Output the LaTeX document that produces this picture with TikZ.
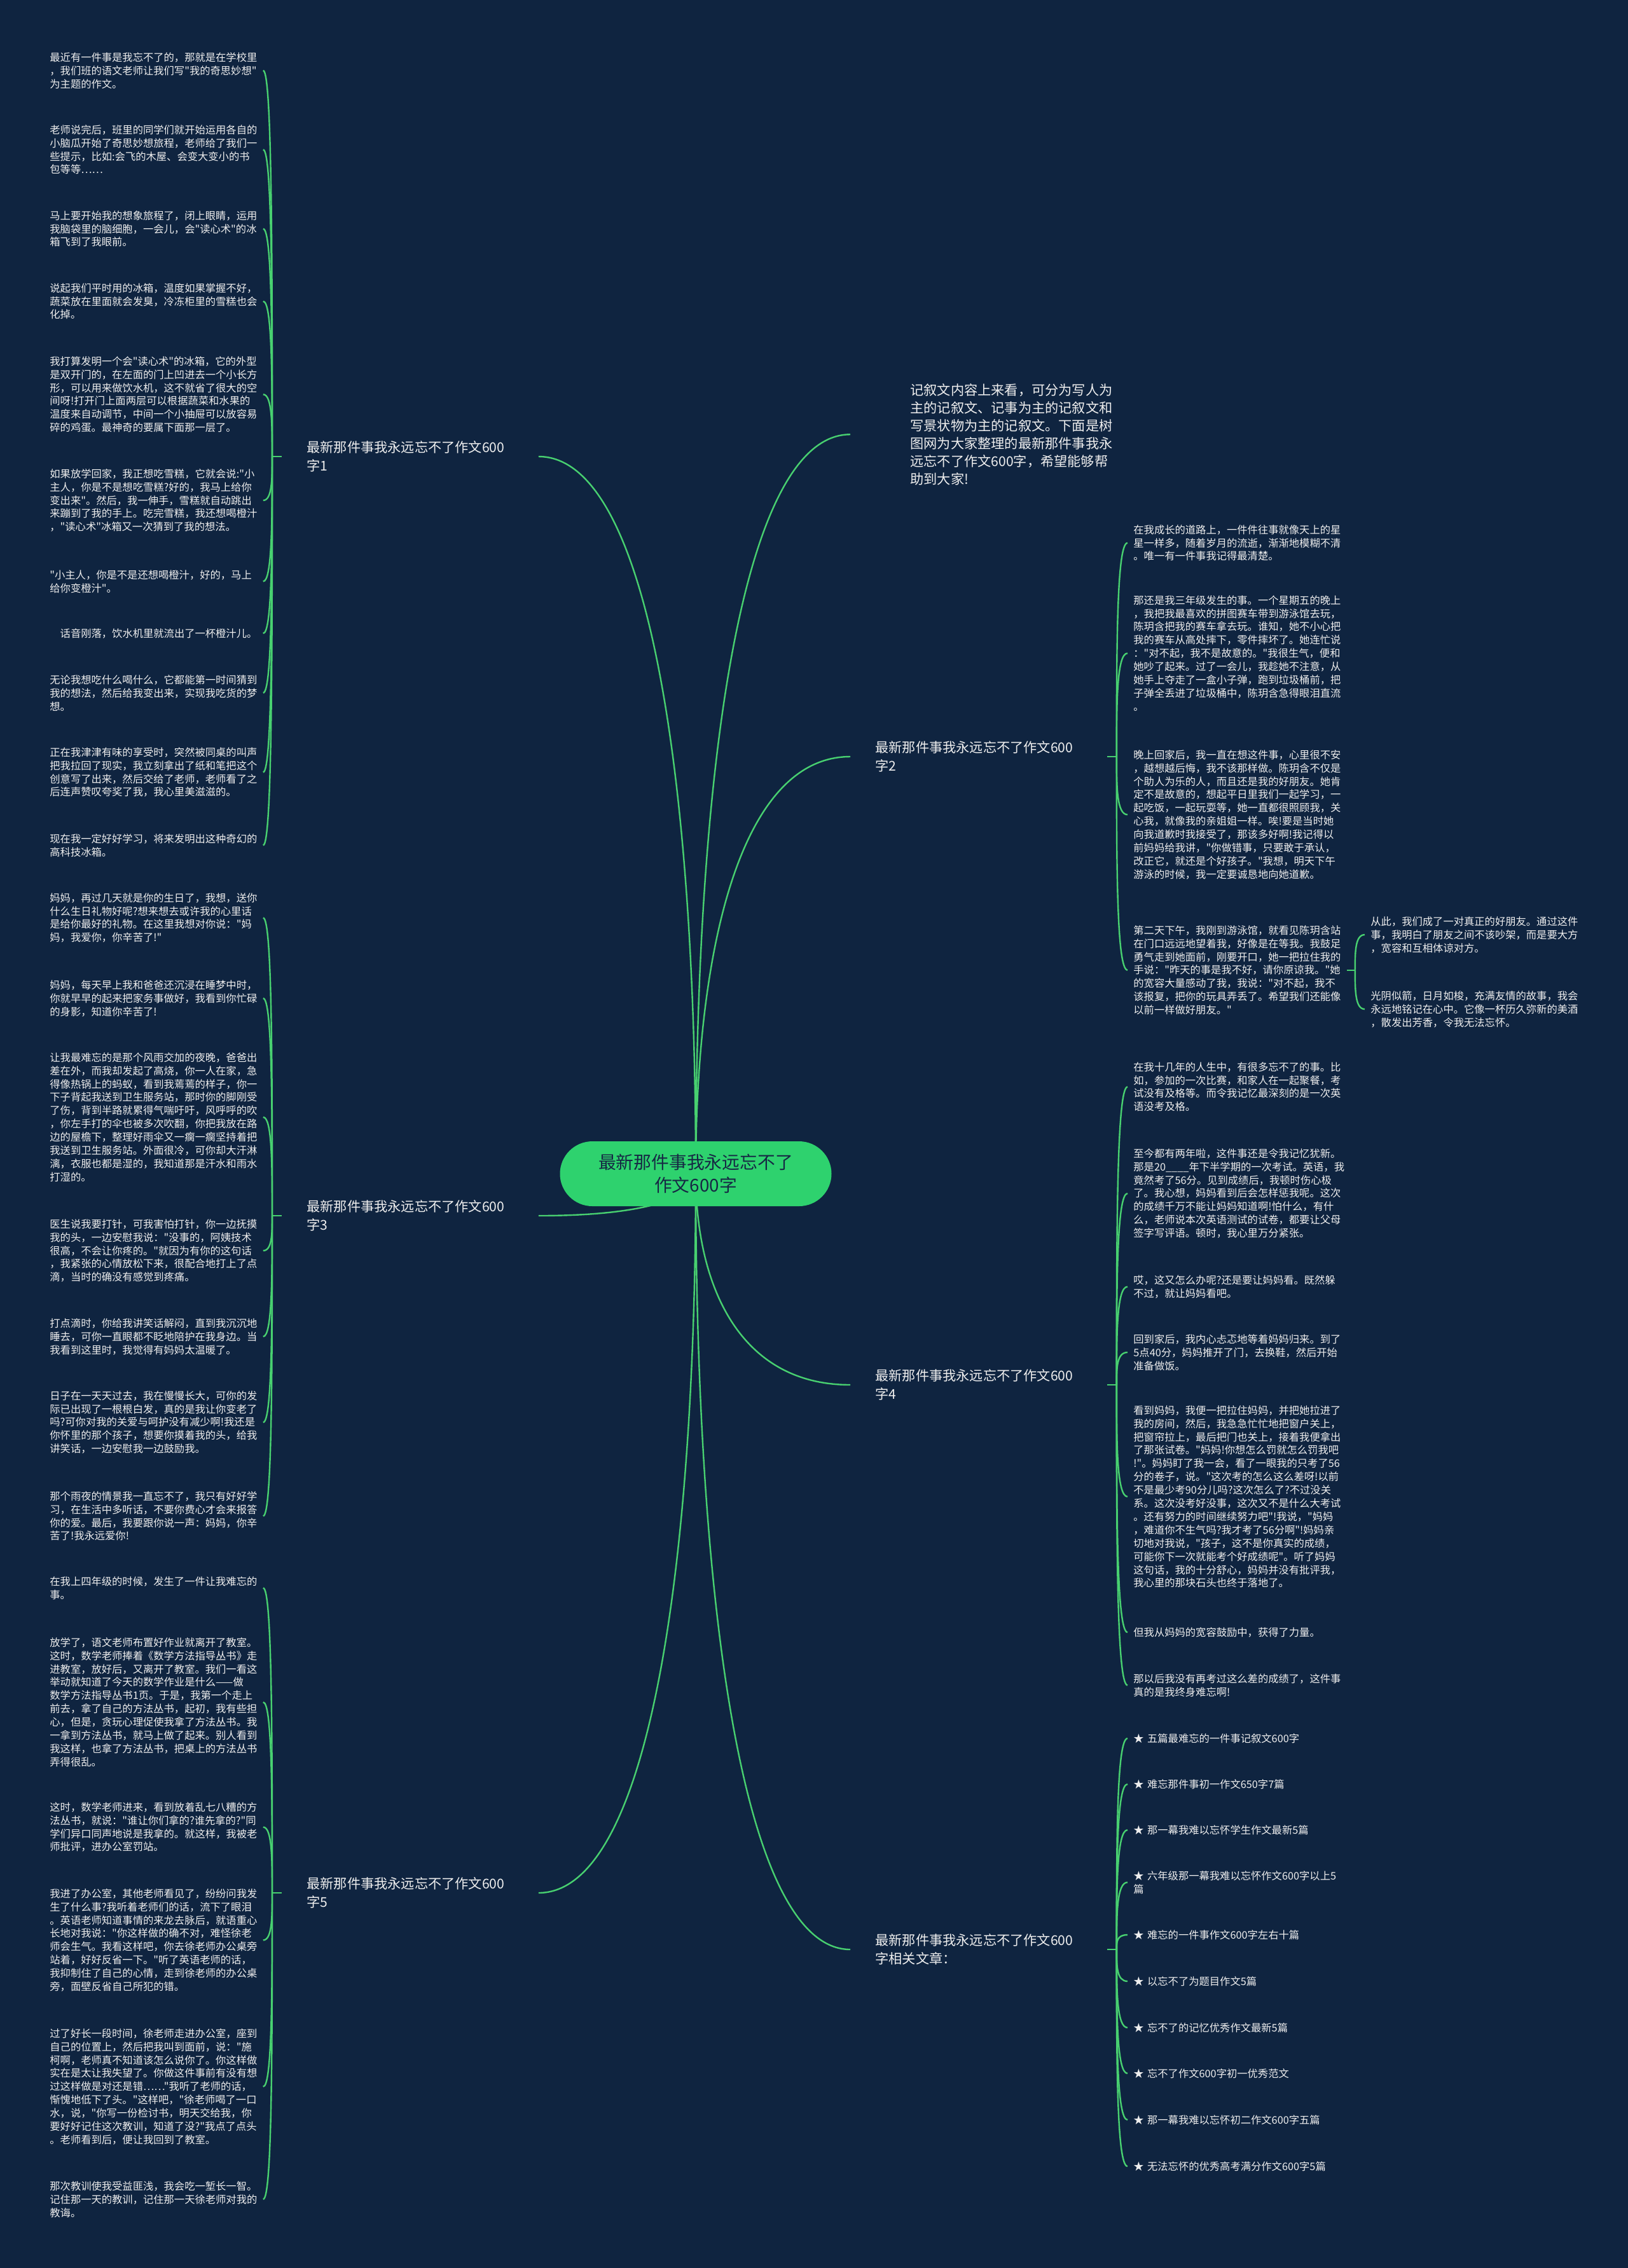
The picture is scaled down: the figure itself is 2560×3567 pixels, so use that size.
\documentclass[tikz,border=0pt]{standalone}
\usepackage{fontspec}
\newfontfamily\cjkf{Noto Sans CJK SC}
\usetikzlibrary{calc,backgrounds}
\definecolor{bgc}{RGB}{15,36,64}
\definecolor{lnc}{RGB}{72,208,112}
\definecolor{ctr}{RGB}{46,210,110}
\definecolor{txt}{RGB}{238,238,238}
\definecolor{ctxt}{RGB}{22,40,68}
\newcommand\mainlink[2]{\draw[conn] (#1) .. controls ($(#1)!0.55!(#1 |- #2)$) and ($(#1 |- #2)!0.3!(#2)$) .. (#2);}
\newcommand\brlink[2]{\draw[conn] (#1) .. controls ($(#1)!0.5!(#1 |- #2)$) and (#1 |- #2) .. (#2);}
\begin{document}
\begin{tikzpicture}[x=0.5pt,y=-0.5pt,
 conn/.style={draw=lnc,line width=1.2pt},
 leafbox/.style={anchor=north west,text width=163pt,inner xsep=4.5pt,inner ysep=0pt,align=left,text=txt,font=\cjkf\fontsize{8.15pt}{10.45pt}\selectfont},
 branchbox/.style={anchor=west,text width=162.5pt,inner xsep=19.5pt,inner ysep=0pt,align=left,text=txt,font=\cjkf\fontsize{10.6pt}{14.5pt}\selectfont},
 introbox/.style={anchor=north west,inner sep=0pt,align=left,text=txt,font=\cjkf\fontsize{10.6pt}{14pt}\selectfont},
 centrebox/.style={fill=ctr,rounded corners=25.5pt,minimum width=213.5pt,minimum height=51pt,align=center,text=ctxt,font=\cjkf\fontsize{13.9pt}{18pt}\selectfont}]
\useasboundingbox (0,0) rectangle (2560,3567);

\node[centrebox] (c) at (1094,1846) {最新那件事我永远忘不了\\作文600字};

% first level
\node[introbox] (intro) at (1431,603) {记叙文内容上来看，可分为写人为\\主的记叙文、记事为主的记叙文和\\写景状物为主的记叙文。下面是树\\图网为大家整理的最新那件事我永\\远忘不了作文600字，希望能够帮\\助到大家!};
\node[branchbox] (b1) at (443,718) {最新那件事我永远忘不了作文600\\字1};
\node[branchbox] (b3) at (443,1912) {最新那件事我永远忘不了作文600\\字3};
\node[branchbox] (b5) at (443,2977) {最新那件事我永远忘不了作文600\\字5};
\node[branchbox] (b2) at (1337,1190) {最新那件事我永远忘不了作文600\\字2};
\node[branchbox] (b4) at (1337,2178) {最新那件事我永远忘不了作文600\\字4};
\node[branchbox] (b6) at (1337,3066) {最新那件事我永远忘不了作文600\\字相关文章：};

% branch 1 leaves
\node[leafbox] (l1) at (69,82) {最近有一件事是我忘不了的，那就是在学校里\\，我们班的语文老师让我们写"我的奇思妙想"\\为主题的作文。};
\node[leafbox] (l2) at (69,196) {老师说完后，班里的同学们就开始运用各自的\\小脑瓜开始了奇思妙想旅程，老师给了我们一\\些提示，比如:会飞的木屋、会变大变小的书\\包等等……};
\node[leafbox] (l3) at (69,331) {马上要开始我的想象旅程了，闭上眼睛，运用\\我脑袋里的脑细胞，一会儿，会"读心术"的冰\\箱飞到了我眼前。};
\node[leafbox] (l4) at (69,445) {说起我们平时用的冰箱，温度如果掌握不好，\\蔬菜放在里面就会发臭，冷冻柜里的雪糕也会\\化掉。};
\node[leafbox] (l5) at (69,560) {我打算发明一个会"读心术"的冰箱，它的外型\\是双开门的，在左面的门上凹进去一个小长方\\形，可以用来做饮水机，这不就省了很大的空\\间呀!打开门上面两层可以根据蔬菜和水果的\\温度来自动调节，中间一个小抽屉可以放容易\\碎的鸡蛋。最神奇的要属下面那一层了。};
\node[leafbox] (l6) at (69,737) {如果放学回家，我正想吃雪糕，它就会说:"小\\主人，你是不是想吃雪糕?好的，我马上给你\\变出来"。然后，我一伸手，雪糕就自动跳出\\来蹦到了我的手上。吃完雪糕，我还想喝橙汁\\，"读心术"冰箱又一次猜到了我的想法。};
\node[leafbox] (l7) at (69,896) {"小主人，你是不是还想喝橙汁，好的，马上\\给你变橙汁"。};
\node[leafbox] (l8) at (69,988) {\hspace*{1em}话音刚落，饮水机里就流出了一杯橙汁儿。};
\node[leafbox] (l9) at (69,1061) {无论我想吃什么喝什么，它都能第一时间猜到\\我的想法，然后给我变出来，实现我吃货的梦\\想。};
\node[leafbox] (l10) at (69,1175) {正在我津津有味的享受时，突然被同桌的叫声\\把我拉回了现实，我立刻拿出了纸和笔把这个\\创意写了出来，然后交给了老师，老师看了之\\后连声赞叹夸奖了我，我心里美滋滋的。};
\node[leafbox] (l11) at (69,1311) {现在我一定好好学习，将来发明出这种奇幻的\\高科技冰箱。};

% branch 3 leaves
\node[leafbox] (l12) at (69,1404) {妈妈，再过几天就是你的生日了，我想，送你\\什么生日礼物好呢?想来想去或许我的心里话\\是给你最好的礼物。在这里我想对你说："妈\\妈，我爱你，你辛苦了!"};
\node[leafbox] (l13) at (69,1541) {妈妈，每天早上我和爸爸还沉浸在睡梦中时，\\你就早早的起来把家务事做好，我看到你忙碌\\的身影，知道你辛苦了!};
\node[leafbox] (l14) at (69,1655) {让我最难忘的是那个风雨交加的夜晚，爸爸出\\差在外，而我却发起了高烧，你一人在家，急\\得像热锅上的蚂蚁，看到我蔫蔫的样子，你一\\下子背起我送到卫生服务站，那时你的脚刚受\\了伤，背到半路就累得气喘吁吁，风呼呼的吹\\，你左手打的伞也被多次吹翻，你把我放在路\\边的屋檐下，整理好雨伞又一瘸一瘸坚持着把\\我送到卫生服务站。外面很冷，可你却大汗淋\\漓，衣服也都是湿的，我知道那是汗水和雨水\\打湿的。};
\node[leafbox] (l15) at (69,1917) {医生说我要打针，可我害怕打针，你一边抚摸\\我的头，一边安慰我说："没事的，阿姨技术\\很高，不会让你疼的。"就因为有你的这句话\\，我紧张的心情放松下来，很配合地打上了点\\滴，当时的确没有感觉到疼痛。};
\node[leafbox] (l16) at (69,2073) {打点滴时，你给我讲笑话解闷，直到我沉沉地\\睡去，可你一直眼都不眨地陪护在我身边。当\\我看到这里时，我觉得有妈妈太温暖了。};
\node[leafbox] (l17) at (69,2187) {日子在一天天过去，我在慢慢长大，可你的发\\际已出现了一根根白发，真的是我让你变老了\\吗?可你对我的关爱与呵护没有减少啊!我还是\\你怀里的那个孩子，想要你摸着我的头，给我\\讲笑话，一边安慰我一边鼓励我。};
\node[leafbox] (l18) at (69,2345) {那个雨夜的情景我一直忘不了，我只有好好学\\习，在生活中多听话，不要你费心才会来报答\\你的爱。最后，我要跟你说一声：妈妈，你辛\\苦了!我永远爱你!};

% branch 5 leaves
\node[leafbox] (l19) at (69,2479) {在我上四年级的时候，发生了一件让我难忘的\\事。};
\node[leafbox] (l20) at (69,2575) {放学了，语文老师布置好作业就离开了教室。\\这时，数学老师捧着《数学方法指导丛书》走\\进教室，放好后，又离开了教室。我们一看这\\举动就知道了今天的数学作业是什么——做\\数学方法指导丛书1页。于是，我第一个走上\\前去，拿了自己的方法丛书，起初，我有些担\\心，但是，贪玩心理促使我拿了方法丛书。我\\一拿到方法丛书，就马上做了起来。别人看到\\我这样，也拿了方法丛书，把桌上的方法丛书\\弄得很乱。};
\node[leafbox] (l21) at (69,2834) {这时，数学老师进来，看到放着乱七八糟的方\\法丛书，就说："谁让你们拿的?谁先拿的?"同\\学们异口同声地说是我拿的。就这样，我被老\\师批评，进办公室罚站。};
\node[leafbox] (l22) at (69,2970) {我进了办公室，其他老师看见了，纷纷问我发\\生了什么事?我听着老师们的话，流下了眼泪\\。英语老师知道事情的来龙去脉后，就语重心\\长地对我说："你这样做的确不对，难怪徐老\\师会生气。我看这样吧，你去徐老师办公桌旁\\站着，好好反省一下。"听了英语老师的话，\\我抑制住了自己的心情，走到徐老师的办公桌\\旁，面壁反省自己所犯的错。};
\node[leafbox] (l23) at (69,3190) {过了好长一段时间，徐老师走进办公室，座到\\自己的位置上，然后把我叫到面前，说："施\\柯啊，老师真不知道该怎么说你了。你这样做\\实在是太让我失望了。你做这件事前有没有想\\过这样做是对还是错……"我听了老师的话，\\惭愧地低下了头。"这样吧，"徐老师喝了一口\\水，说，"你写一份检讨书，明天交给我，你\\要好好记住这次教训，知道了没?"我点了点头\\。老师看到后，便让我回到了教室。};
\node[leafbox] (l24) at (69,3430) {那次教训使我受益匪浅，我会吃一堑长一智。\\记住那一天的教训，记住那一天徐老师对我的\\教诲。};

% branch 2 leaves
\node[leafbox] (r21) at (1773,825) {在我成长的道路上，一件件往事就像天上的星\\星一样多，随着岁月的流逝，渐渐地模糊不清\\。唯一有一件事我记得最清楚。};
\node[leafbox] (r22) at (1773,936) {那还是我三年级发生的事。一个星期五的晚上\\，我把我最喜欢的拼图赛车带到游泳馆去玩，\\陈玥含把我的赛车拿去玩。谁知，她不小心把\\我的赛车从高处摔下，零件摔坏了。她连忙说\\："对不起，我不是故意的。"我很生气，便和\\她吵了起来。过了一会儿，我趁她不注意，从\\她手上夺走了一盒小子弹，跑到垃圾桶前，把\\子弹全丢进了垃圾桶中，陈玥含急得眼泪直流\\。};
\node[leafbox] (r23) at (1773,1179) {晚上回家后，我一直在想这件事，心里很不安\\，越想越后悔，我不该那样做。陈玥含不仅是\\个助人为乐的人，而且还是我的好朋友。她肯\\定不是故意的，想起平日里我们一起学习，一\\起吃饭，一起玩耍等，她一直都很照顾我，关\\心我，就像我的亲姐姐一样。唉!要是当时她\\向我道歉时我接受了，那该多好啊!我记得以\\前妈妈给我讲，"你做错事，只要敢于承认，\\改正它，就还是个好孩子。"我想，明天下午\\游泳的时候，我一定要诚恳地向她道歉。};
\node[leafbox] (r24) at (1773,1455) {第二天下午，我刚到游泳馆，就看见陈玥含站\\在门口远远地望着我，好像是在等我。我鼓足\\勇气走到她面前，刚要开口，她一把拉住我的\\手说："昨天的事是我不好，请你原谅我。"她\\的宽容大量感动了我，我说："对不起，我不\\该报复，把你的玩具弄丢了。希望我们还能像\\以前一样做好朋友。"};
\node[leafbox] (s1) at (2146,1441) {从此，我们成了一对真正的好朋友。通过这件\\事，我明白了朋友之间不该吵架，而是要大方\\，宽容和互相体谅对方。};
\node[leafbox] (s2) at (2146,1558) {光阴似箭，日月如梭，充满友情的故事，我会\\永远地铭记在心中。它像一杯历久弥新的美酒\\，散发出芳香，令我无法忘怀。};

% branch 4 leaves
\node[leafbox] (r41) at (1773,1670) {在我十几年的人生中，有很多忘不了的事。比\\如，参加的一次比赛，和家人在一起聚餐，考\\试没有及格等。而令我记忆最深刻的是一次英\\语没考及格。};
\node[leafbox] (r42) at (1773,1806) {至今都有两年啦，这件事还是令我记忆犹新。\\那是20\_\_\_\_年下半学期的一次考试。英语，我\\竟然考了56分。见到成绩后，我顿时伤心极\\了。我心想，妈妈看到后会怎样惩我呢。这次\\的成绩千万不能让妈妈知道啊!怕什么，有什\\么，老师说本次英语测试的试卷，都要让父母\\签字写评语。顿时，我心里万分紧张。};
\node[leafbox] (r43) at (1773,2005) {哎，这又怎么办呢?还是要让妈妈看。既然躲\\不过，就让妈妈看吧。};
\node[leafbox] (r44) at (1773,2098) {回到家后，我内心忐忑地等着妈妈归来。到了\\5点40分，妈妈推开了门，去换鞋，然后开始\\准备做饭。};
\node[leafbox] (r45) at (1773,2210) {看到妈妈，我便一把拉住妈妈，并把她拉进了\\我的房间，然后，我急急忙忙地把窗户关上，\\把窗帘拉上，最后把门也关上，接着我便拿出\\了那张试卷。"妈妈!你想怎么罚就怎么罚我吧\\!"。妈妈盯了我一会，看了一眼我的只考了56\\分的卷子，说。"这次考的怎么这么差呀!以前\\不是最少考90分儿吗?这次怎么了?不过没关\\系。这次没考好没事，这次又不是什么大考试\\。还有努力的时间继续努力吧"!我说，"妈妈\\，难道你不生气吗?我才考了56分啊"!妈妈亲\\切地对我说，"孩子，这不是你真实的成绩，\\可能你下一次就能考个好成绩呢"。听了妈妈\\这句话，我的十分舒心，妈妈并没有批评我，\\我心里的那块石头也终于落地了。};
\node[leafbox] (r46) at (1773,2559) {但我从妈妈的宽容鼓励中，获得了力量。};
\node[leafbox] (r47) at (1773,2632) {那以后我没有再考过这么差的成绩了，这件事\\真的是我终身难忘啊!};

% branch 6 leaves
\node[leafbox] (r61) at (1773,2726) {★ 五篇最难忘的一件事记叙文600字};
\node[leafbox] (r62) at (1773,2798) {★ 难忘那件事初一作文650字7篇};
\node[leafbox] (r63) at (1773,2870) {★ 那一幕我难以忘怀学生作文最新5篇};
\node[leafbox] (r64) at (1773,2942) {★ 六年级那一幕我难以忘怀作文600字以上5\\篇};
\node[leafbox] (r65) at (1773,3035) {★ 难忘的一件事作文600字左右十篇};
\node[leafbox] (r66) at (1773,3108) {★ 以忘不了为题目作文5篇};
\node[leafbox] (r67) at (1773,3181) {★ 忘不了的记忆优秀作文最新5篇};
\node[leafbox] (r68) at (1773,3253) {★ 忘不了作文600字初一优秀范文};
\node[leafbox] (r69) at (1773,3326) {★ 那一幕我难以忘怀初二作文600字五篇};
\node[leafbox] (r610) at (1773,3399) {★ 无法忘怀的优秀高考满分作文600字5篇};

% hubs
\coordinate (ie) at ([xshift=-47pt]intro.west);
\coordinate (h1) at ([xshift=-7.5pt]b1.west);
\coordinate (h3) at ([xshift=-7.5pt]b3.west);
\coordinate (h5) at ([xshift=-7.5pt]b5.west);
\coordinate (h2) at ([xshift=7.5pt]b2.east);
\coordinate (h4) at ([xshift=7.5pt]b4.east);
\coordinate (h6) at ([xshift=7.5pt]b6.east);
\coordinate (h24) at ([xshift=6.5pt]r24.east);

\begin{scope}[on background layer]
\fill[bgc] (0,0) rectangle (2560,3567);
\mainlink{c.center}{ie}
\mainlink{c.center}{b1.east}
\mainlink{c.center}{b3.east}
\mainlink{c.center}{b5.east}
\mainlink{c.center}{b2.west}
\mainlink{c.center}{b4.west}
\mainlink{c.center}{b6.west}
\draw[conn] (b1.west) -- (h1);
\draw[conn] (b3.west) -- (h3);
\draw[conn] (b5.west) -- (h5);
\draw[conn] (b2.east) -- (h2);
\draw[conn] (b4.east) -- (h4);
\draw[conn] (b6.east) -- (h6);
\draw[conn] (r24.east) -- (h24);
\foreach \n in {l1,l2,l3,l4,l5,l6,l7,l8,l9,l10,l11}{\brlink{h1}{\n.east}}
\foreach \n in {l12,l13,l14,l15,l16,l17,l18}{\brlink{h3}{\n.east}}
\foreach \n in {l19,l20,l21,l22,l23,l24}{\brlink{h5}{\n.east}}
\foreach \n in {r21,r22,r23,r24}{\brlink{h2}{\n.west}}
\foreach \n in {s1,s2}{\brlink{h24}{\n.west}}
\foreach \n in {r41,r42,r43,r44,r45,r46,r47}{\brlink{h4}{\n.west}}
\foreach \n in {r61,r62,r63,r64,r65,r66,r67,r68,r69,r610}{\brlink{h6}{\n.west}}
\end{scope}
\end{tikzpicture}
\end{document}
